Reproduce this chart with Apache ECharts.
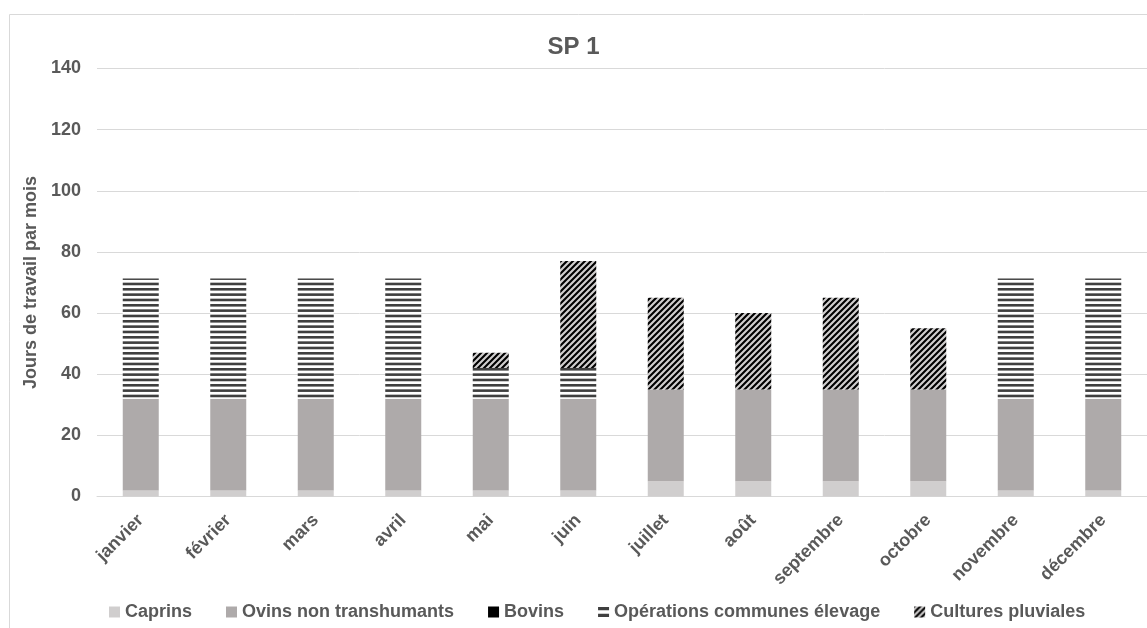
<!DOCTYPE html>
<html>
<head>
<meta charset="utf-8">
<script src="https://cdn.jsdelivr.net/npm/echarts@6/dist/echarts.min.js"></script>
<style>
html,body{margin:0;padding:0;background:#fff;}
#chart{width:1147px;height:628px;}
</style>
</head>
<body>
<div id="chart"></div>
<script>
const months = ['janvier','février','mars','avril','mai','juin','juillet','août','septembre','octobre','novembre','décembre'];
const caprins = [2,2,2,2,2,2,5,5,5,5,2,2];
const ovins = [30,30,30,30,30,30,30,30,30,30,30,30];
const bovins = [0,0,0,0,0,0,0,0,0,0,0,0];
const operations = [39.3,39.3,39.3,39.3,10,10,0,0,0,0,39.3,39.3];
const cultures = [0,0,0,0,5,35,30,25,30,20,0,0];
const yTicks = {min:0, max:140, interval:20};

function hStripes(){
  const c=document.createElement('canvas'); c.width=8; c.height=16;
  const x=c.getContext('2d');
  x.fillStyle='#ffffff'; x.fillRect(0,0,8,16);
  x.fillStyle='#3f3f3f';
  x.fillRect(0,0,8,2.6); x.fillRect(0,5.33,8,2.6); x.fillRect(0,10.67,8,2.6);
  return c;
}
function dStripes(){
  const s=6;
  const c=document.createElement('canvas'); c.width=s; c.height=s;
  const x=c.getContext('2d');
  x.fillStyle='#d0cece'; x.fillRect(0,0,s,s);
  x.strokeStyle='#000'; x.lineWidth=2.1; x.lineCap='square';
  x.beginPath();
  x.moveTo(-1,s+1); x.lineTo(s+1,-1);
  x.moveTo(-1-s,s+1); x.lineTo(1,-1);
  x.moveTo(s-1,s+1); x.lineTo(2*s+1,-1);
  x.stroke();
  return c;
}

const chart = echarts.init(document.getElementById('chart'));
const txt = {color:'#595959', fontWeight:'bold', fontFamily:'Liberation Sans, Arial, sans-serif'};
function bar(name, data, color){
  return {name, type:'bar', stack:'t', data, barWidth:36, itemStyle:{color}, emphasis:{disabled:true}};
}
const hatch = dStripes();
chart.setOption({
  animation:false,
  graphic:[{type:'rect', shape:{x:9.5,y:14.5,width:1300,height:800}, style:{fill:'none', stroke:'#d9d9d9', lineWidth:1}, z:-1}],
  title:{text:'SP 1', left:'center', top:30, textStyle:Object.assign({fontSize:24},txt)},
  grid:{left:97, right:0, top:68.5, bottom:131.5},
  legend:{top:598, left:104, itemWidth:11, itemHeight:11, itemGap:34,
    textStyle:Object.assign({fontSize:18},txt),
    data:[
      {name:'Caprins', icon:'rect'},
      {name:'Ovins non transhumants', icon:'rect'},
      {name:'Bovins', icon:'rect'},
      {name:'Opérations communes élevage', icon:'path://M0,0h10v3h-10zM0,6h10v3h-10z', itemStyle:{color:'#3f3f3f'}},
      {name:'Cultures pluviales', icon:'rect'}
    ]},
  xAxis:{type:'category', data:months,
    axisLine:{lineStyle:{color:'#d9d9d9'}}, axisTick:{show:false},
    axisLabel:Object.assign({rotate:45, fontSize:18, margin:21, interval:0},txt)},
  yAxis:{type:'value', min:yTicks.min, max:yTicks.max, interval:yTicks.interval,
    name:'Jours de travail par mois', nameLocation:'middle', nameGap:53,
    nameTextStyle:Object.assign({fontSize:18},txt),
    axisLine:{show:false}, axisTick:{show:false},
    splitLine:{lineStyle:{color:'#d9d9d9'}},
    axisLabel:Object.assign({fontSize:18, margin:16},txt)},
  series:[
    bar('Caprins', caprins, '#d0cece'),
    bar('Ovins non transhumants', ovins, '#aeaaaa'),
    bar('Bovins', bovins, '#000000'),
    bar('Opérations communes élevage', operations, {image:hStripes(), repeat:'repeat'}),
    bar('Cultures pluviales', cultures, {image:hatch, repeat:'repeat'})
  ]
});
</script>
</body>
</html>
